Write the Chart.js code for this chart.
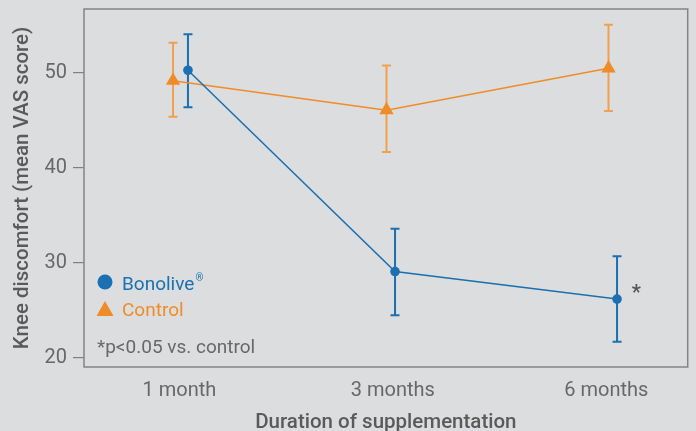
<!DOCTYPE html>
<html>
<head>
<meta charset="utf-8">
<script src="https://cdn.jsdelivr.net/npm/chart.js@4.4.1/dist/chart.umd.min.js"></script>
<style>
  html, body { margin: 0; padding: 0; background: #dcdddf; }
</style>
</head>
<body>
<canvas id="kneeChart" width="696" height="431"></canvas>
<script>
const categories = ['1 month', '3 months', '6 months'];
const categoryPos = [1, 2, 3];
const yTicks = [20, 30, 40, 50];

const bonoliveX = [1.04, 2.01, 3.05];
const bonoliveMean = [50.3, 29.1, 26.2];
const bonoliveUpper = [54.1, 33.6, 30.7];
const bonoliveLower = [46.4, 24.5, 21.7];

const controlX = [0.97, 1.97, 3.01];
const controlMean = [49.2, 46.1, 50.5];
const controlUpper = [53.2, 50.8, 55.1];
const controlLower = [45.4, 41.7, 46.0];

// asterisk next to Bonolive at 6 months
const sigMark = { x: 3.14, y: 27.3 };

const BLUE = '#1a70b0';
const ORANGE = '#f08c28';
const GREY_TEXT = '#686868';
const FONT = 'Roboto';

const bgPlugin = {
  id: 'bg',
  beforeDraw(chart) {
    const { ctx, width, height } = chart;
    ctx.save();
    ctx.fillStyle = '#dcdddf';
    ctx.fillRect(0, 0, width, height);
    ctx.restore();
  }
};

const errorBars = {
  id: 'errorBars',
  beforeDatasetsDraw(chart) {
    const { ctx, scales: { x, y } } = chart;
    chart.data.datasets.forEach((ds) => {
      ctx.save();
      ctx.strokeStyle = ds.errorColor;
      ctx.lineWidth = 2;
      ds.data.forEach((pt, i) => {
        const px = x.getPixelForValue(pt.x);
        const top = y.getPixelForValue(ds.upper[i]);
        const bot = y.getPixelForValue(ds.lower[i]);
        ctx.beginPath();
        ctx.moveTo(px, top); ctx.lineTo(px, bot);
        ctx.moveTo(px - 4.5, top); ctx.lineTo(px + 4.5, top);
        ctx.moveTo(px - 4.5, bot); ctx.lineTo(px + 4.5, bot);
        ctx.stroke();
      });
      ctx.restore();
    });
  }
};

const frameAndNotes = {
  id: 'frameAndNotes',
  afterDraw(chart) {
    const { ctx, chartArea: a, scales: { x, y } } = chart;
    ctx.save();
    // plot frame
    ctx.strokeStyle = '#848484';
    ctx.lineWidth = 1.5;
    ctx.strokeRect(a.left, a.top, a.right - a.left, a.bottom - a.top);

    // legend
    const lx = a.left + 21;
    ctx.fillStyle = BLUE;
    ctx.beginPath();
    ctx.arc(lx, 282, 7.5, 0, Math.PI * 2);
    ctx.fill();
    ctx.font = '19px ' + FONT;
    ctx.textBaseline = 'alphabetic';
    ctx.textAlign = 'left';
    ctx.fillText('Bonolive', a.left + 38, 290);
    const w = ctx.measureText('Bonolive').width;
    ctx.font = '10px ' + FONT;
    ctx.fillText('®', a.left + 38 + w + 1, 281);

    ctx.fillStyle = ORANGE;
    ctx.beginPath();
    ctx.moveTo(lx, 301);
    ctx.lineTo(lx + 8.5, 316);
    ctx.lineTo(lx - 8.5, 316);
    ctx.closePath();
    ctx.fill();
    ctx.font = '19px ' + FONT;
    ctx.fillText('Control', a.left + 38, 316);

    ctx.fillStyle = GREY_TEXT;
    ctx.fillText('*p<0.05 vs. control', a.left + 13, 353);

    // significance mark
    ctx.fillStyle = '#555555';
    ctx.font = 'bold 20px ' + FONT;
    ctx.textAlign = 'center';
    ctx.fillText('*', x.getPixelForValue(sigMark.x), y.getPixelForValue(sigMark.y) + 10);
    ctx.restore();
  }
};

const tickFont = { family: FONT, size: 20 };
const titleFont = { family: FONT, size: 20.5, weight: 500 };

new Chart(document.getElementById('kneeChart'), {
  type: 'line',
  data: {
    datasets: [
      {
        label: 'Bonolive',
        data: bonoliveX.map((x, i) => ({ x, y: bonoliveMean[i] })),
        upper: bonoliveUpper,
        lower: bonoliveLower,
        errorColor: BLUE,
        borderColor: BLUE,
        backgroundColor: BLUE,
        borderWidth: 1.5,
        pointStyle: 'circle',
        pointRadius: 4.8,
        pointBorderWidth: 0,
        tension: 0
      },
      {
        label: 'Control',
        data: controlX.map((x, i) => ({ x, y: controlMean[i] })),
        upper: controlUpper,
        lower: controlLower,
        errorColor: '#f0a050',
        borderColor: ORANGE,
        backgroundColor: ORANGE,
        borderWidth: 1.5,
        pointStyle: 'triangle',
        pointRadius: 8.3,
        pointBorderWidth: 0,
        tension: 0
      }
    ]
  },
  options: {
    responsive: false,
    animation: false,
    layout: { padding: { top: 9, right: 4, left: 0, bottom: 0 } },
    scales: {
      x: {
        type: 'linear',
        min: 0.553,
        max: 3.381,
        afterBuildTicks: (s) => { s.ticks = categoryPos.map((v) => ({ value: v })); },
        afterFit: (s) => { s.height = 64; s.paddingLeft = 0; s.paddingRight = 0; },
        grid: { display: false, drawTicks: false },
        border: { display: false },
        ticks: {
          callback: (v, i) => categories[i],
          padding: 12,
          color: GREY_TEXT,
          font: tickFont,
          maxRotation: 0,
          autoSkip: false
        },
        title: {
          display: true,
          text: 'Duration of supplementation',
          color: '#5a5a5a',
          font: titleFont,
          padding: { top: 0, bottom: -4 }
        }
      },
      y: {
        min: 19.05,
        max: 56.75,
        afterBuildTicks: (s) => { s.ticks = yTicks.map((v) => ({ value: v })); },
        afterFit: (s) => { s.width = 84; s.paddingTop = 0; s.paddingBottom = 0; },
        grid: { drawOnChartArea: false, tickLength: 11, color: '#808080', lineWidth: 1.2 },
        border: { display: false },
        ticks: { padding: 6, color: GREY_TEXT, font: tickFont },
        title: {
          display: true,
          text: 'Knee discomfort (mean VAS score)',
          color: '#5a5a5a',
          font: titleFont,
          padding: { top: 10.5, bottom: 0 }
        }
      }
    },
    plugins: {
      legend: { display: false },
      tooltip: { enabled: false }
    }
  },
  plugins: [bgPlugin, errorBars, frameAndNotes]
});
</script>
</body>
</html>
